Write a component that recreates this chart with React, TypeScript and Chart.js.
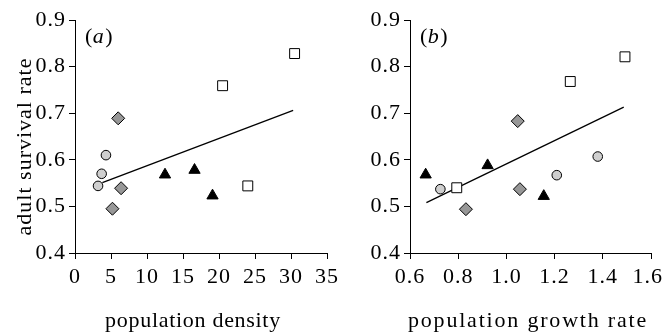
import React, { useEffect, useRef } from 'react';
import { Chart, registerables } from 'chart.js';

Chart.register(...registerables);

// ---- Data ----
// Panel (a): population density vs adult survival rate
const densityCircle = [3.2, 3.7, 4.3];
const survivalCircleA = [0.544, 0.570, 0.610];
const densityDiamond = [6.0, 6.4, 5.2];
const survivalDiamondA = [0.689, 0.539, 0.495];
const densityTriangle = [12.5, 16.6, 19.1];
const survivalTriangleA = [0.568, 0.578, 0.523];
const densitySquare = [20.5, 30.5, 24.0];
const survivalSquareA = [0.759, 0.828, 0.544];
const densityFitX = [3.8, 30.3];
const densityFitY = [0.551, 0.706];

// Panel (b): population growth rate vs adult survival rate
const growthCircle = [0.726, 1.209, 1.379];
const survivalCircleB = [0.537, 0.567, 0.607];
const growthDiamond = [1.047, 1.056, 0.832];
const survivalDiamondB = [0.683, 0.537, 0.494];
const growthTriangle = [0.665, 0.922, 1.155];
const survivalTriangleB = [0.568, 0.588, 0.522];
const growthSquare = [0.794, 1.265, 1.492];
const survivalSquareB = [0.540, 0.768, 0.821];
const growthFitX = [0.668, 1.487];
const growthFitY = [0.508, 0.713];

const yTicks = [0.4, 0.5, 0.6, 0.7, 0.8, 0.9];
const densityTicks = [0, 5, 10, 15, 20, 25, 30, 35];
const growthTicks = [0.6, 0.8, 1.0, 1.2, 1.4, 1.6];

const FONT = '"Liberation Serif", "Times New Roman", serif';
const FS = 22;

const zip = (xs: number[], ys: number[]) => xs.map((x, i) => ({ x, y: ys[i] }));

function pointSet(label: string, xs: number[], ys: number[], style: string, fill: string, radius: number) {
  return {
    type: 'scatter' as const,
    label,
    data: zip(xs, ys),
    pointStyle: style,
    pointRadius: radius,
    pointHoverRadius: radius,
    pointBackgroundColor: fill,
    pointBorderColor: '#000',
    pointBorderWidth: 1,
    showLine: false,
    order: 0,
  };
}

function fitSet(xs: number[], ys: number[]) {
  return {
    type: 'line' as const,
    label: 'fit',
    data: zip(xs, ys),
    borderColor: '#000',
    borderWidth: 1.3,
    pointRadius: 0,
    fill: false,
    order: 1,
  };
}

type PanelOpts = {
  letter: string;
  xTitle: string;
  xTitleCenter: number;
  xTitleSpacing: number;
  yTitle?: string;
};

function textPlugin(p: PanelOpts) {
  const setSpacing = (chart: any, px: number) => {
    (chart.ctx as any).letterSpacing = `${px}px`;
  };
  return {
    id: 'panelText',
    beforeUpdate(chart: any) {
      setSpacing(chart, 1);
    },
    beforeDraw(chart: any) {
      setSpacing(chart, 1);
    },
    afterDraw(chart: any) {
      const ctx = chart.ctx as CanvasRenderingContext2D;
      const ca = chart.chartArea;
      ctx.save();
      ctx.fillStyle = '#000';
      ctx.textBaseline = 'alphabetic';
      (ctx as any).letterSpacing = '0px';
      // panel label "(a)"
      let x = ca.left + 10;
      const by = 43;
      ctx.font = `${FS}px ${FONT}`;
      ctx.textAlign = 'left';
      ctx.fillText('(', x, by);
      x += ctx.measureText('(').width + 0.5;
      ctx.font = `italic ${FS}px ${FONT}`;
      ctx.fillText(p.letter, x, by);
      x += ctx.measureText(p.letter).width + 1.5;
      ctx.font = `${FS}px ${FONT}`;
      ctx.fillText(')', x, by);
      // x title
      ctx.textAlign = 'center';
      (ctx as any).letterSpacing = `${p.xTitleSpacing}px`;
      ctx.fillText(p.xTitle, p.xTitleCenter, 327);
      // y title
      if (p.yTitle) {
        ctx.save();
        (ctx as any).letterSpacing = '1px';
        ctx.translate(31, 146.5);
        ctx.rotate(-Math.PI / 2);
        ctx.textAlign = 'center';
        ctx.fillText(p.yTitle, 0, 0);
        ctx.restore();
      }
      ctx.restore();
      setSpacing(chart, 1);
    },
  };
}

function makeChart(
  canvas: HTMLCanvasElement,
  datasets: any[],
  xMin: number,
  xMax: number,
  xTickVals: number[],
  xDecimals: number,
  yWidth: number,
  rightPad: number,
  lastLabelPad: boolean,
  panel: PanelOpts
) {
  return new Chart(canvas, {
    type: 'scatter',
    data: { datasets },
    plugins: [textPlugin(panel)],
    options: {
      animation: false,
      responsive: false,
      events: [],
      layout: { padding: { left: 0, right: rightPad, top: 20, bottom: 0 } },
      plugins: { legend: { display: false }, tooltip: { enabled: false } },
      scales: {
        x: {
          type: 'linear',
          min: xMin,
          max: xMax,
          afterBuildTicks: (s: any) => {
            s.ticks = xTickVals.map((v) => ({ value: v }));
          },
          ticks: {
            color: '#000',
            font: { family: FONT, size: FS },
            padding: 5,
            maxRotation: 0,
            autoSkip: false,
            callback: (v: any, i: number) => {
              const t = Number(v).toFixed(xDecimals);
              return lastLabelPad && i === xTickVals.length - 1 ? t + ' ' : t;
            },
          },
          grid: {
            display: true,
            drawOnChartArea: false,
            drawTicks: true,
            tickLength: 6,
            color: '#000',
            tickColor: '#000',
          },
          border: { display: true, color: '#000', width: 1 },
          afterFit: (s: any) => {
            s.height = 83;
            s.paddingLeft = 0;
            s.paddingRight = 0;
          },
        },
        y: {
          type: 'linear',
          min: 0.4,
          max: 0.9,
          afterBuildTicks: (s: any) => {
            s.ticks = yTicks.map((v) => ({ value: v }));
          },
          ticks: {
            color: '#000',
            font: { family: FONT, size: FS },
            padding: 3,
            autoSkip: false,
            callback: (v: any) => Number(v).toFixed(1),
          },
          grid: {
            display: true,
            drawOnChartArea: false,
            drawTicks: true,
            tickLength: 6,
            color: '#000',
            tickColor: '#000',
          },
          border: { display: true, color: '#000', width: 1 },
          afterFit: (s: any) => {
            s.width = yWidth;
            s.paddingTop = 0;
            s.paddingBottom = 0;
          },
        },
      },
    } as any,
  });
}

export default function App() {
  const refA = useRef<HTMLCanvasElement>(null);
  const refB = useRef<HTMLCanvasElement>(null);

  useEffect(() => {
    const circleFill = '#cfcfcf';
    const diamondFill = '#979797';
    const chartA = makeChart(
      refA.current!,
      [
        pointSet('circle', densityCircle, survivalCircleA, 'circle', circleFill, 4.8),
        pointSet('diamond', densityDiamond, survivalDiamondA, 'rectRot', diamondFill, 6.5),
        pointSet('triangle', densityTriangle, survivalTriangleA, 'triangle', '#000', 6.5),
        pointSet('square', densitySquare, survivalSquareA, 'rect', '#fff', 7),
        fitSet(densityFitX, densityFitY),
      ],
      0,
      35,
      densityTicks,
      0,
      75,
      18,
      false,
      { letter: 'a', xTitle: 'population density', xTitleCenter: 193, xTitleSpacing: 0.7, yTitle: 'adult survival rate' }
    );
    const chartB = makeChart(
      refB.current!,
      [
        pointSet('circle', growthCircle, survivalCircleB, 'circle', circleFill, 4.8),
        pointSet('diamond', growthDiamond, survivalDiamondB, 'rectRot', diamondFill, 6.5),
        pointSet('triangle', growthTriangle, survivalTriangleB, 'triangle', '#000', 6.5),
        pointSet('square', growthSquare, survivalSquareB, 'rect', '#fff', 7),
        fitSet(growthFitX, growthFitY),
      ],
      0.6,
      1.6,
      growthTicks,
      1,
      79,
      11,
      true,
      { letter: 'b', xTitle: 'population growth rate', xTitleCenter: 197, xTitleSpacing: 1.8 }
    );
    return () => {
      chartA.destroy();
      chartB.destroy();
    };
  }, []);

  return (
    <div style={{ position: 'absolute', left: 0, top: 0, width: 662, height: 336, overflow: 'hidden', background: '#fff' }}>
      <canvas ref={refA} width={345} height={336} style={{ position: 'absolute', left: 0, top: 0, width: 345, height: 336 }} />
      <canvas ref={refB} width={331} height={336} style={{ position: 'absolute', left: 331, top: 0, width: 331, height: 336 }} />
    </div>
  );
}
